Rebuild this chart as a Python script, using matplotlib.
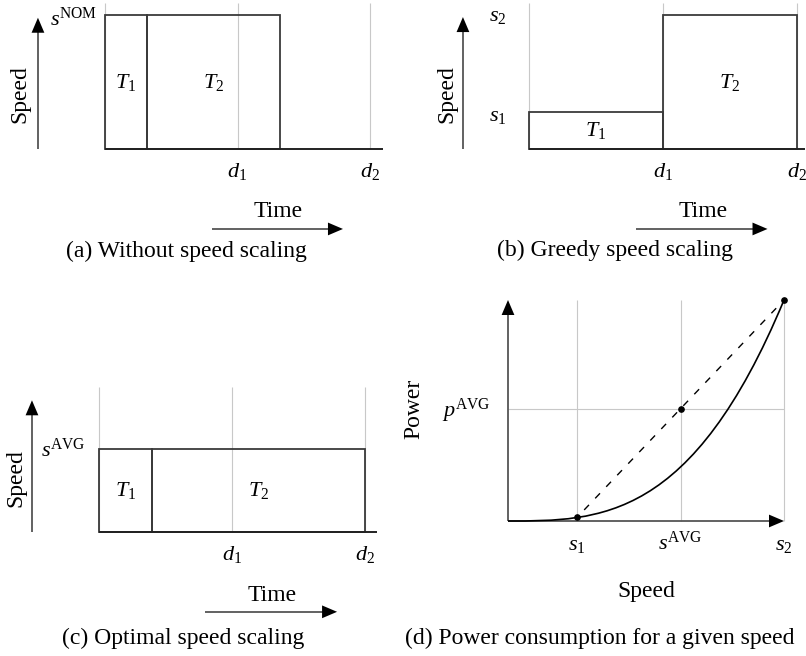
import matplotlib
matplotlib.use('Agg')
import matplotlib.pyplot as plt
from matplotlib.path import Path
from matplotlib.patches import PathPatch

plt.rcParams['font.family'] = ['Liberation Serif', 'DejaVu Serif']
plt.rcParams['mathtext.fontset'] = 'custom'
plt.rcParams['mathtext.rm'] = 'Liberation Serif'
plt.rcParams['mathtext.it'] = 'Liberation Serif:italic'
plt.rcParams['mathtext.bf'] = 'Liberation Serif:bold'

W, H = 806, 656

# deadlines on the time axis
deadlines = [1.0, 2.0]
deadline_labels = [r'$d_1$', r'$d_2$']
task_labels = [r'$T_1$', r'$T_2$']

# (a) both tasks run at nominal speed
a_starts = [0.0, 0.317]
a_ends = [0.317, 1.32]
a_speeds = [1.0, 1.0]

# (b) greedy: each task stretched up to its own deadline
b_starts = [0.0, 1.0]
b_ends = [1.0, 2.0]
b_speeds = [0.276, 1.0]

# (c) optimal: one average speed for both tasks
c_starts = [0.0, 0.40]
c_ends = [0.40, 2.0]
c_speeds = [0.624, 0.624]

# (d) power vs speed, cubic curve as bezier control points
curve_s = [0.0, 1 / 3, 2 / 3, 1.0]
curve_p = [0.0, 0.0, 0.0, 1.0]
mark_s = [0.25, 0.625, 1.0]
mark_p = [0.016, 0.508, 1.0]
mark_s_labels = [r'$s_1$', r'$s^{\mathrm{AVG}}$', r'$s_2$']
p_avg_label = r'$p^{\mathrm{AVG}}$'

LABEL_FS = 17
MATH_FS = 16
GRID = '#c8c8c8'
BOX = '#3a3a3a'
SHAFT = '#555555'
HEAD_PX = 15.0

fig = plt.figure(figsize=(W / 100, H / 100), dpi=100)


def panel(x0, x1, ytop, ybot, xmax, ymax):
    ax = fig.add_axes([x0 / W, 1 - ybot / H, (x1 - x0) / W, (ybot - ytop) / H])
    ax.set_xlim(0, xmax)
    ax.set_ylim(0, ymax)
    ax.axis('off')
    ax.ppu = ((x1 - x0) / xmax, (ybot - ytop) / ymax)
    return ax


def arrow(ax, start, end):
    # black head only, then a grey shaft up to the head base
    ax.annotate('', xy=end, xytext=start, annotation_clip=False,
                arrowprops=dict(arrowstyle='-|>,head_length=10.8,head_width=4.6',
                                mutation_scale=1, color='black', lw=0,
                                shrinkA=0, shrinkB=0))
    dx, dy = end[0] - start[0], end[1] - start[1]
    lx, ly = dx * ax.ppu[0], dy * ax.ppu[1]
    n = (lx ** 2 + ly ** 2) ** 0.5
    f = (n - HEAD_PX + 1) / n
    ax.plot([start[0], start[0] + dx * f], [start[1], start[1] + dy * f],
            color=SHAFT, lw=1.3, clip_on=False, solid_capstyle='butt')


def schedule(ax, starts, ends, speeds, ymax, axis_end, speed_ticks, tick_x,
             arrow_x, arrow_top, speed_xy, time_xy, time_arrow, cap_xy, caption):
    ax.vlines([0.0] + deadlines, 0, ymax, color=GRID, lw=0.8, zorder=1, clip_on=False)
    widths = [e - s for s, e in zip(starts, ends)]
    ax.bar(starts, speeds, width=widths, align='edge', fill=False,
           edgecolor=BOX, lw=1.3, zorder=3, clip_on=False)
    for s, w, v, lab in zip(starts, widths, speeds, task_labels):
        ax.text(s + w / 2, v / 2, lab, fontsize=MATH_FS, ha='center', va='center')
    ax.hlines(0, 0, axis_end, color='#222222', lw=1.4, zorder=4, clip_on=False)
    for d, lab in zip(deadlines, deadline_labels):
        ax.text(d, -0.21, lab, fontsize=MATH_FS, ha='center', va='baseline')
    for v, lab in speed_ticks:
        ax.text(tick_x, v, lab, fontsize=MATH_FS, ha='right', va='center')
    arrow(ax, (arrow_x, 0.0), (arrow_x, arrow_top))
    ax.text(speed_xy[0], speed_xy[1], 'Speed', fontsize=LABEL_FS, rotation=90,
            ha='center', va='center')
    ax.text(time_xy[0], time_xy[1], 'Time', fontsize=LABEL_FS, ha='center', va='center')
    arrow(ax, (time_arrow[0], time_arrow[2]), (time_arrow[1], time_arrow[2]))
    ax.text(cap_xy[0], cap_xy[1], caption, fontsize=LABEL_FS, ha='center', va='center')


# (a)
ax_a = panel(105, 370, 3, 149, 2.0, 1.09)
schedule(ax_a, a_starts, a_ends, a_speeds, 1.09, 2.10,
         [(0.97, r'$s^{\mathrm{NOM}}$')], -0.06,
         -0.506, 0.98, (-0.64, 0.41), (1.306, -0.47), (0.808, 1.796, -0.597),
         (0.611, -0.761), '(a) Without speed scaling')

# (b)
ax_b = panel(529, 797, 3, 149, 2.0, 1.09)
schedule(ax_b, b_starts, b_ends, b_speeds, 1.09, 2.06,
         [(b_speeds[1] - 0.01, r'$s_2$'), (b_speeds[0] - 0.035, r'$s_1$')], -0.17,
         -0.493, 0.985, (-0.61, 0.41), (1.30, -0.47), (0.80, 1.78, -0.597),
         (0.64, -0.76), '(b) Greedy speed scaling')

# (c)
ax_c = panel(99, 365, 387, 532, 2.0, 1.09)
schedule(ax_c, c_starts, c_ends, c_speeds, 1.09, 2.09,
         [(c_speeds[0] - 0.01, r'$s^{\mathrm{AVG}}$')], -0.10,
         -0.504, 0.99, (-0.624, 0.406), (1.30, -0.474), (0.797, 1.79, -0.60),
         (0.63, -0.80), '(c) Optimal speed scaling')

# (d)
ax_d = panel(508, 784, 300, 521, 1.0, 1.0)
ax_d.vlines(mark_s, 0, 1, color=GRID, lw=0.8, zorder=1, clip_on=False)
ax_d.hlines(mark_p[1], 0, 1, color=GRID, lw=0.8, zorder=1, clip_on=False)
curve = Path(list(zip(curve_s, curve_p)),
             [Path.MOVETO, Path.CURVE4, Path.CURVE4, Path.CURVE4])
ax_d.add_patch(PathPatch(curve, fill=False, edgecolor='black', lw=1.2, zorder=3,
                         clip_on=False))
ax_d.plot([mark_s[0], mark_s[2]], [mark_p[0], mark_p[2]], color='black', lw=1.0,
          ls=(4, (5, 6.5)), zorder=3, clip_on=False)
ax_d.plot(mark_s, mark_p, 'o', color='black', ms=3.8, zorder=5, clip_on=False)
arrow(ax_d, (0.0, 0.0), (1.0, 0.0))
arrow(ax_d, (0.0, 0.0), (0.0, 1.0))
for s, lab in zip(mark_s, mark_s_labels):
    ax_d.text(s, -0.131, lab, fontsize=MATH_FS, ha='center', va='baseline')
ax_d.text(-0.062, 0.47, p_avg_label, fontsize=MATH_FS, ha='right', va='baseline')
ax_d.text(-0.34, 0.507, 'Power', fontsize=LABEL_FS, rotation=90, ha='center', va='center')
ax_d.text(0.5, -0.321, 'Speed', fontsize=LABEL_FS, ha='center', va='center')
ax_d.text(0.333, -0.529, '(d) Power consumption for a given speed', fontsize=LABEL_FS,
          ha='center', va='center')

fig.savefig('out.png', dpi=100)
